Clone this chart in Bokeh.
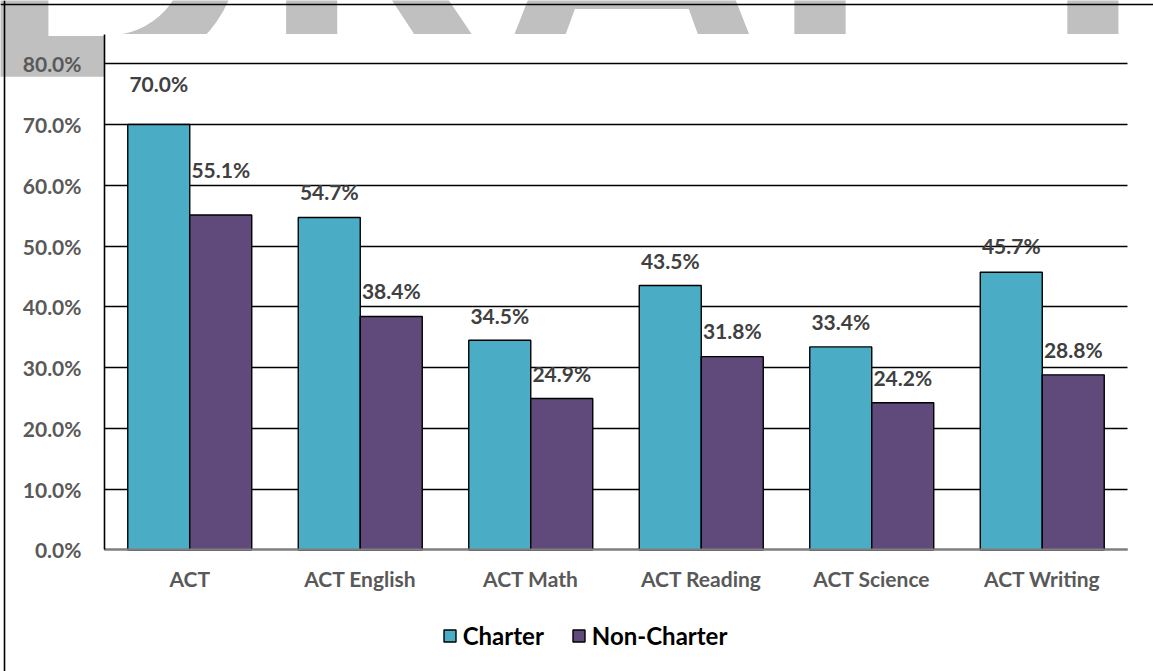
from bokeh.plotting import figure
from bokeh.models import (ColumnDataSource, Range1d, FixedTicker, PrintfTickFormatter,
                          Legend, LegendItem, LabelSet, Label, BoxAnnotation, Span)
from bokeh.core.properties import value
from bokeh.embed import file_html
from bokeh.resources import INLINE

categories = ["ACT", "ACT English", "ACT Math", "ACT Reading", "ACT Science", "ACT Writing"]
charter = [70.0, 54.7, 34.5, 43.5, 33.4, 45.7]
non_charter = [55.1, 38.4, 24.9, 31.8, 24.2, 28.8]
y_ticks = [0, 10, 20, 30, 40, 50, 60, 70, 80]
series_names = ["Charter", "Non-Charter"]
watermark = "DRAFT"

# label offsets above bar tops (px)
charter_label_off = [41, 26, 25, 25, 25, 27]
non_charter_label_off = [46, 26, 25, 26, 25, 25]

TEAL = "#4BACC6"
PURPLE = "#604A7B"
FONT = "Lato"
W, H = 1153, 671

# plot area: one unit per category on x, percent on y
N = len(categories)
X_MIN, X_MAX = -0.61, 6.1525
Y_MIN, Y_MAX = -20.03, 90.42
AXIS_TOP = 84.89
BW = 0.3636

cat_pos = [i + 0.5 for i in range(N)]
source = ColumnDataSource(dict(
    x_ch=[c - BW / 2 for c in cat_pos],
    x_non=[c + BW / 2 for c in cat_pos],
    charter=charter,
    non=non_charter,
    charter_txt=["%.1f%%" % v for v in charter],
    non_txt=["%.1f%%" % v for v in non_charter],
    charter_off=charter_label_off,
    non_off=non_charter_label_off,
))

p = figure(width=W, height=H, output_backend="svg", toolbar_location=None,
           x_range=Range1d(X_MIN, X_MAX), y_range=Range1d(Y_MIN, Y_MAX), min_border=0)
p.outline_line_color = None
p.background_fill_color = "white"
p.border_fill_color = "white"

# watermark, hidden by the plot area
wm = Label(x=-34, y=102.07, x_units="screen", y_units="data", text=watermark,
           text_font=FONT, text_font_style="bold", text_font_size="380px",
           text_color="#C0C0C0", text_baseline="alphabetic", level="image")
p.add_layout(wm)
cover = BoxAnnotation(left=0, top=AXIS_TOP, fill_color="white", fill_alpha=1.0, line_alpha=0,
                      level="image")
p.add_layout(cover)

# outer chart box (top and left edges)
p.add_layout(Span(location=89.76, dimension="width", line_color="black", line_width=1.6))
p.add_layout(Span(location=-0.5865, dimension="height", line_color="black", line_width=1.6))

r1 = p.vbar(x="x_ch", top="charter", width=BW, source=source,
            fill_color=TEAL, line_color="black", line_width=1.4)
r2 = p.vbar(x="x_non", top="non", width=BW, source=source,
            fill_color=PURPLE, line_color="black", line_width=1.4)

for xs, ys, ts, offs in [("x_ch", "charter", "charter_txt", "charter_off"),
                         ("x_non", "non", "non_txt", "non_off")]:
    ls = LabelSet(x=xs, y=ys, text=ts, y_offset=offs, source=source,
                  text_align="center", text_baseline="middle", text_font=value(FONT),
                  text_font_style="bold", text_font_size="21px", text_color="#404040")
    p.add_layout(ls)

# value axis
p.yaxis.fixed_location = 0
p.yaxis.ticker = FixedTicker(ticks=y_ticks)
p.yaxis.formatter = PrintfTickFormatter(format="%.1f%%")
p.yaxis.bounds = (0, AXIS_TOP)
p.yaxis.major_tick_line_color = None
p.yaxis.minor_tick_line_color = None
p.yaxis.major_tick_out = 0
p.yaxis.major_tick_in = 0
p.yaxis.axis_line_color = "black"
p.yaxis.axis_line_width = 1.6
p.yaxis.major_label_standoff = 23
p.yaxis.major_label_text_font = FONT
p.yaxis.major_label_text_font_style = "bold"
p.yaxis.major_label_text_font_size = "21px"
p.yaxis.major_label_text_color = "#595959"

# category axis
p.xaxis.fixed_location = 0
p.xaxis.ticker = FixedTicker(ticks=cat_pos)
p.xaxis.major_label_overrides = {c: name for c, name in zip(cat_pos, categories)}
p.xaxis.bounds = (0, N)
p.xaxis.major_tick_line_color = None
p.xaxis.minor_tick_line_color = None
p.xaxis.major_tick_out = 0
p.xaxis.major_tick_in = 0
p.xaxis.axis_line_color = "#7F7F7F"
p.xaxis.axis_line_width = 2
p.xaxis.major_label_standoff = 16
p.xaxis.major_label_text_font = FONT
p.xaxis.major_label_text_font_style = "bold"
p.xaxis.major_label_text_font_size = "21px"
p.xaxis.major_label_text_color = "#595959"

p.xgrid.grid_line_color = None
p.ygrid.grid_line_color = "black"
p.ygrid.grid_line_width = 1.5
p.ygrid.ticker = FixedTicker(ticks=y_ticks)
p.ygrid.cross_bounds = (0, N)

legend = Legend(items=[LegendItem(label=series_names[0], renderers=[r1]),
                       LegendItem(label=series_names[1], renderers=[r2])],
                orientation="horizontal", location=(441.7, 21.5),
                glyph_width=15, glyph_height=15, label_standoff=6, spacing=27,
                padding=0, margin=0, border_line_color=None, background_fill_alpha=0,
                label_text_font=FONT, label_text_font_style="bold",
                label_text_font_size="24px", label_text_color="black")
p.add_layout(legend)

open("out.html", "w").write(file_html(p, INLINE))
